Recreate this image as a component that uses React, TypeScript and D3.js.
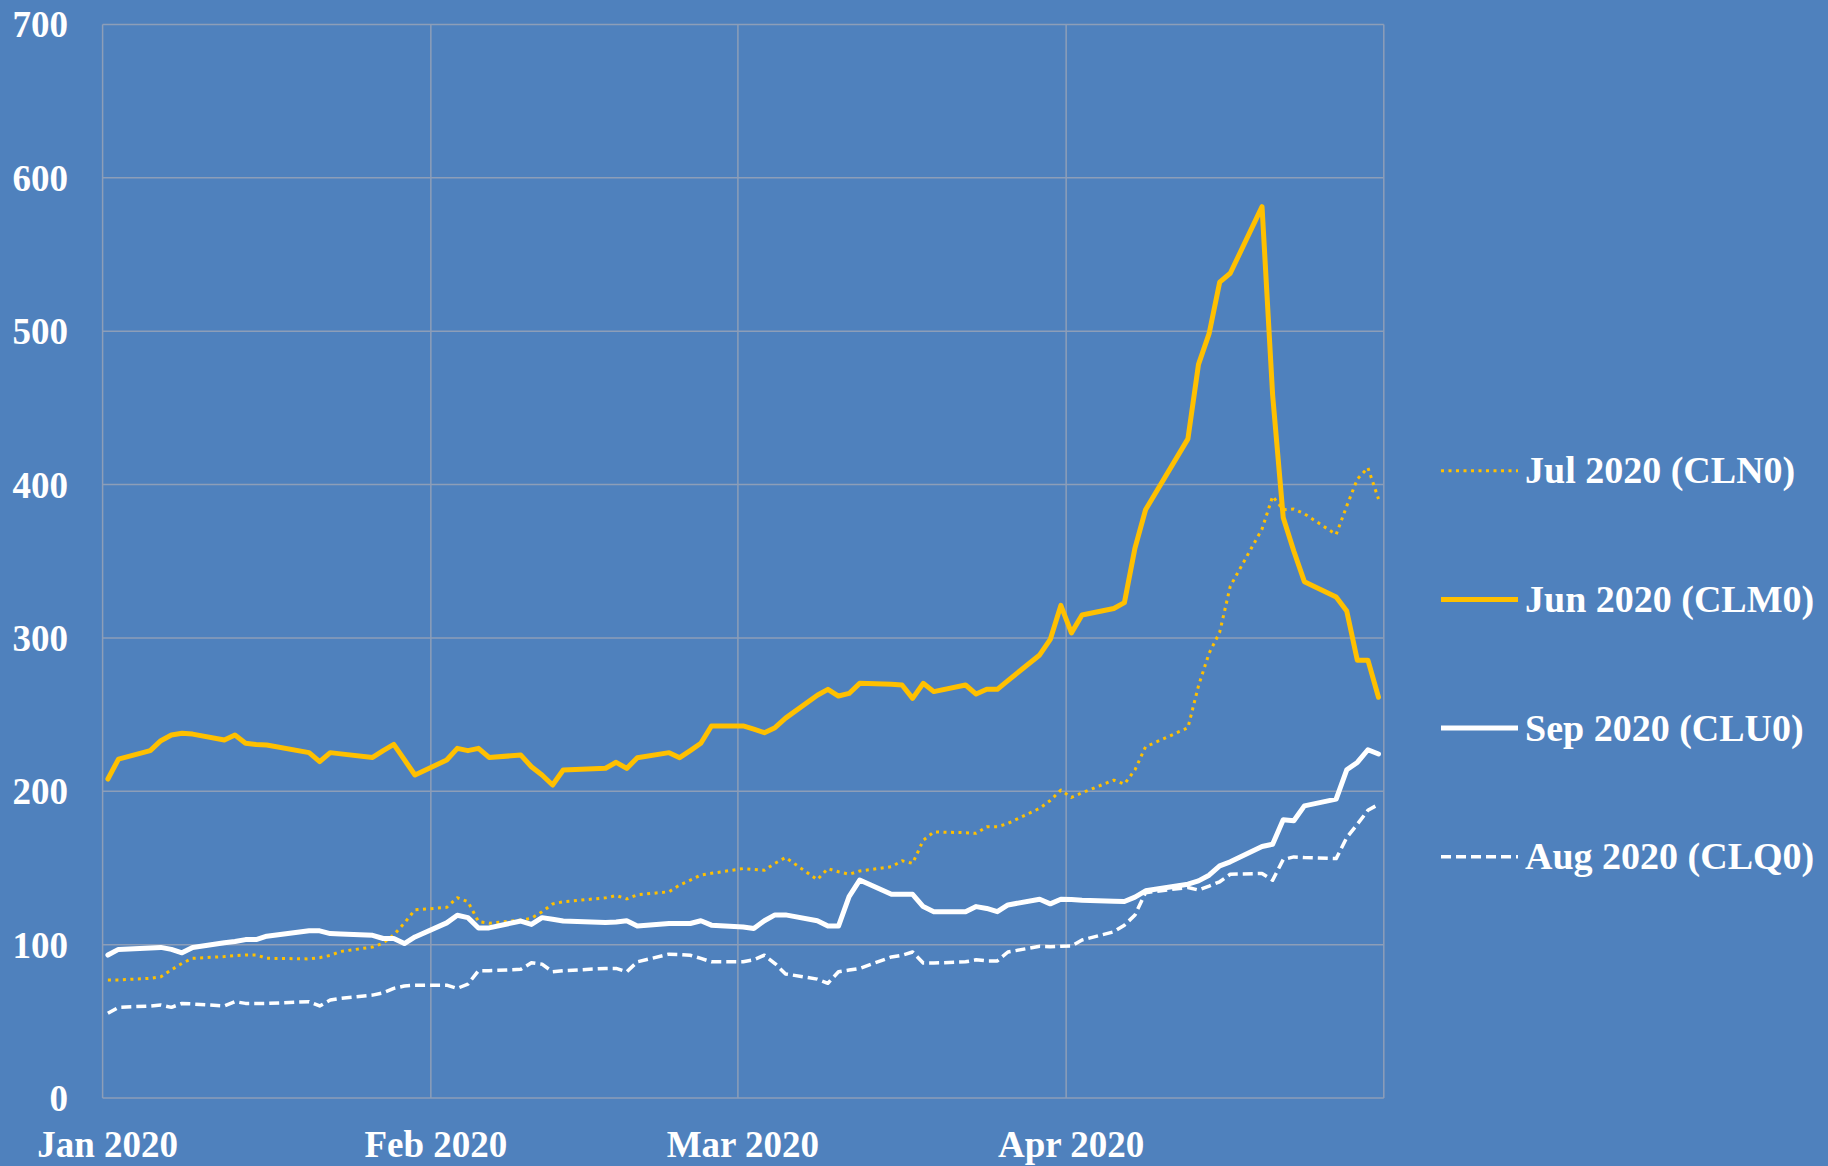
import * as d3 from "d3";

// trading days shown in the chart
const dates = [
  "2020-01-02", "2020-01-03", "2020-01-06", "2020-01-07", "2020-01-08", "2020-01-09", "2020-01-10",
  "2020-01-13", "2020-01-14", "2020-01-15", "2020-01-16", "2020-01-17", "2020-01-21", "2020-01-22",
  "2020-01-23", "2020-01-24", "2020-01-27", "2020-01-28", "2020-01-29", "2020-01-30", "2020-01-31",
  "2020-02-03", "2020-02-04", "2020-02-05", "2020-02-06", "2020-02-07", "2020-02-10", "2020-02-11",
  "2020-02-12", "2020-02-13", "2020-02-14", "2020-02-18", "2020-02-19", "2020-02-20", "2020-02-21",
  "2020-02-24", "2020-02-25", "2020-02-26", "2020-02-27", "2020-02-28",
  "2020-03-02", "2020-03-03", "2020-03-04", "2020-03-05", "2020-03-06", "2020-03-09", "2020-03-10",
  "2020-03-11", "2020-03-12", "2020-03-13", "2020-03-16", "2020-03-17", "2020-03-18", "2020-03-19",
  "2020-03-20", "2020-03-23", "2020-03-24", "2020-03-25", "2020-03-26", "2020-03-27", "2020-03-30",
  "2020-03-31",
  "2020-04-01", "2020-04-02", "2020-04-03", "2020-04-06", "2020-04-07", "2020-04-08", "2020-04-09",
  "2020-04-13", "2020-04-14", "2020-04-15", "2020-04-16", "2020-04-17", "2020-04-20", "2020-04-21",
  "2020-04-22", "2020-04-23", "2020-04-24", "2020-04-27", "2020-04-28", "2020-04-29", "2020-04-30",
  "2020-05-01",
];

const julCLN0 = [
  77, 77, 78, 79, 83.6, 87.8, 91.1, 92.2, 92.8, 93.3, 93.3, 91.1, 90.7, 91.5, 93, 95.6, 98.4, 101, 106.4, 114, 122.7,
  124.3, 130.6, 128, 115, 114, 116, 117.2, 121.5, 126.5, 128, 130.5, 132, 129.8, 132.5, 134.5, 138.9, 142, 145.4, 146.5,
  149.6, 149, 148.5, 153, 156.8, 142.4, 149.6, 147.5, 145.9, 148, 150.8, 154.7, 153, 168, 173.5, 173, 172.6, 176.9, 176.9, 179, 188.9, 194,
  200.8, 196, 199, 207.3, 204.7, 214, 229, 241.4, 268.8, 290, 303.7, 333.7, 371, 392.3, 383.6, 384, 381, 367.4, 386, 403.6, 411,
  390.6,
];

const junCLM0 = [
  208, 221, 226.5, 233, 236.7, 237.8, 237.3, 233.4, 236.7, 231.3, 230.5, 230.2, 225.2, 219.3, 225.2, 224.4, 222.1, 226.5, 230.6, 220.6, 210.6,
  220.4, 228, 226.5, 228, 222.1, 223.6, 216, 210.6, 204.1, 213.9, 215, 218.9, 214.9, 221.9, 225.2, 221.9, 226.5, 231.3, 242.6,
  242.6, 240.5, 238.2, 241.5, 247.7, 262.6, 266.5, 262.1, 263.8, 270.4, 269.8, 269.3, 260.6, 270.4, 265, 269.3, 263.4, 266.5, 266.5, 272.2, 288.9, 299,
  321.2, 303.3, 315, 319.2, 323, 358.6, 383.6, 429.8, 478.4, 498.4, 532, 537.8, 581.2, 458.5, 378.6, 356.7, 336.7, 326.7, 317.5, 285.5, 285.5,
  261.3,
];

const sepCLU0 = [
  93.2, 96.9, 97.8, 98.2, 96.9, 94.7, 98.2, 101.2, 102, 103.3, 103.3, 105.5, 109, 109, 107.2, 106.9, 106.1, 104, 104, 100.7, 105,
  114.2, 119.2, 117.6, 110.9, 110.9, 115.4, 113.2, 117.6, 116.5, 115.4, 114.4, 114.8, 115.6, 112.1, 113.8, 113.8, 113.8, 115.6, 112.7,
  111.5, 110.5, 115.6, 119.4, 119.4, 115.6, 112.1, 112.1, 131.3, 142.1, 132.8, 132.8, 132.8, 124.8, 121.5, 121.5, 124.8, 123.6, 121.5, 125.9, 129.6, 126.6,
  129.6, 129.5, 129, 128.3, 128.1, 131, 135.1, 139.4, 141.6, 145.3, 151.4, 154, 164, 165.5, 181.4, 180.8, 190.5, 194.9, 214, 218.8, 227.1,
  224.3,
];

const augCLQ0 = [
  55.2, 59.1, 60, 60.6, 59.1, 61.7, 61.3, 60, 62.8, 61.7, 61.7, 61.7, 62.8, 60, 63.9, 65, 67.1, 68.6, 71.5, 73, 73.6,
  73.6, 71.5, 74.3, 83, 83, 83.9, 88.2, 87.3, 82.3, 83, 84.5, 84.5, 82.3, 88.8, 93.8, 93.6, 93.1, 91, 88.8,
  88.8, 90.1, 93.1, 87.7, 80.9, 77.5, 74.8, 82.3, 83.4, 84.5, 92, 93.1, 95.2, 88, 88, 88.8, 90.1, 89.4, 89.4, 95.2, 98.9, 98.7,
  99, 99.1, 103, 108.4, 112.7, 119.3, 133.9, 137.3, 135.6, 138.2, 141, 145.9, 146.4, 142, 155.5, 157.2, 156.8, 156.1, 169.8, 178.5, 187.6,
  191.5,
];

const yTicks = [0, 100, 200, 300, 400, 500, 600, 700];
const monthTicks = ["2020-01-02", "2020-02-02", "2020-03-02", "2020-04-02", "2020-05-02"];
const monthLabels = ["Jan 2020", "Feb 2020", "Mar 2020", "Apr 2020"];

const W = 1828;
const H = 1166;
const BG = "#4F81BD";
const GRID = "#8D9EB8";
const GOLD = "#FFC000";
const FONT = "'Liberation Serif', 'Times New Roman', serif";

const parse = d3.utcParse("%Y-%m-%d");
const HALF_DAY = 12 * 3600 * 1000;

// drawing order: last on top
const series = [
  { name: "Jul 2020 (CLN0)", values: julCLN0, color: GOLD, width: 3, dash: "3 4.5" },
  { name: "Aug 2020 (CLQ0)", values: augCLQ0, color: "#FFFFFF", width: 3.5, dash: "10 5" },
  { name: "Sep 2020 (CLU0)", values: sepCLU0, color: "#FFFFFF", width: 5, dash: null },
  { name: "Jun 2020 (CLM0)", values: junCLM0, color: GOLD, width: 5, dash: null },
];
const legendOrder = ["Jul 2020 (CLN0)", "Jun 2020 (CLM0)", "Sep 2020 (CLU0)", "Aug 2020 (CLQ0)"];

export default function App() {
  const x = d3.scaleUtc()
    .domain([parse("2020-01-02")!, parse("2020-05-02")!])
    .range([102.6, 1383.8]);
  const y = d3.scaleLinear().domain([0, 700]).range([1098, 24.5]);

  // Excel date axis "between tick marks": each day sits in the middle of its slot
  const px = (d: string) => x(new Date(parse(d)!.getTime() + HALF_DAY));

  const line = d3.line<number>()
    .x((_, i) => px(dates[i]))
    .y(v => y(v));

  const [x0, x1] = x.range();
  const [yb, yt] = y.range();

  return (
    <svg width={W} height={H} style={{ position: "absolute", left: 0, top: 0, display: "block" }}>
      <rect width={W} height={H} fill={BG} />

      {/* gridlines */}
      <g stroke={GRID} strokeWidth={1.5}>
        {yTicks.map(t => (
          <line key={"h" + t} x1={x0} x2={x1} y1={y(t)} y2={y(t)} />
        ))}
        {monthTicks.map(m => (
          <line key={"v" + m} x1={x(parse(m)!)} x2={x(parse(m)!)} y1={yt} y2={yb} />
        ))}
      </g>

      {/* y labels */}
      <g fill="#FFFFFF" fontFamily={FONT} fontWeight="bold" fontSize={37} textAnchor="end">
        {yTicks.map(t => (
          <text key={t} x={68} y={y(t)} dy="0.35em">{t}</text>
        ))}
      </g>

      {/* x labels */}
      <g fill="#FFFFFF" fontFamily={FONT} fontWeight="bold" fontSize={37} textAnchor="middle">
        {monthLabels.map((lbl, i) => (
          <text key={lbl} x={x(parse(monthTicks[i])!) + 5} y={1157}>{lbl}</text>
        ))}
      </g>

      {/* series */}
      <g fill="none" strokeLinejoin="round">
        {series.map(s => (
          <path
            key={s.name}
            d={line(s.values) ?? ""}
            stroke={s.color}
            strokeWidth={s.width}
            strokeDasharray={s.dash ?? undefined}
            strokeLinecap={s.dash ? "butt" : "round"}
          />
        ))}
      </g>

      {/* legend */}
      <g fontFamily={FONT} fontWeight="bold" fontSize={38} fill="#FFFFFF">
        {legendOrder.map((name, i) => {
          const s = series.find(d => d.name === name)!;
          const ly = 470.7 + i * 128.7;
          return (
            <g key={name}>
              <line x1={1441} x2={1518} y1={ly} y2={ly} stroke={s.color} strokeWidth={s.width}
                strokeDasharray={s.dash ?? undefined} />
              <text x={1525} y={ly} dy="0.33em">{name}</text>
            </g>
          );
        })}
      </g>
    </svg>
  );
}
